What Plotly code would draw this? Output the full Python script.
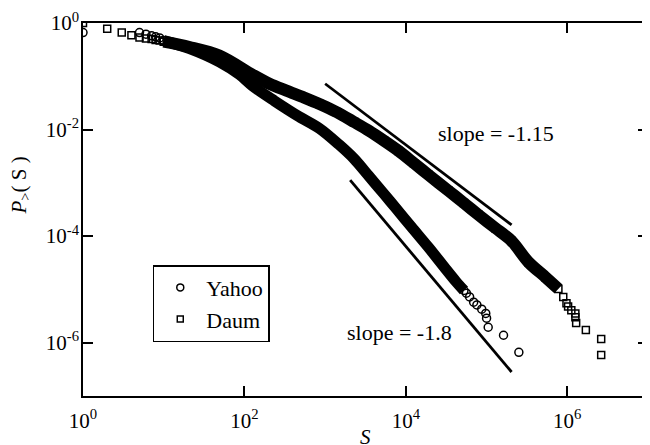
import plotly.graph_objects as go

# ---- data (log10 values) ----
daum_logS = [0.00, 0.30, 0.48, 0.60, 0.70, 0.78, 0.85, 0.90, 0.95,
             1.00, 1.32, 1.69, 2.10, 2.31, 2.52, 2.74, 2.93, 3.14, 3.36, 3.54,
             3.73, 3.91, 4.10, 4.28, 4.53, 4.72, 4.90, 5.11, 5.31, 5.52, 5.73, 5.89,
             5.95, 5.99, 6.01, 6.05, 6.10, 6.10, 6.11, 6.23, 6.42, 6.42]
daum_logP = [0.00, -0.11, -0.18, -0.23, -0.27, -0.29, -0.30, -0.32, -0.33,
             -0.35, -0.45, -0.61, -0.97, -1.14, -1.27, -1.40, -1.52, -1.67, -1.86, -2.02,
             -2.21, -2.40, -2.63, -2.85, -3.15, -3.38, -3.60, -3.85, -4.09, -4.49, -4.77, -4.99,
             -5.14, -5.26, -5.32, -5.39, -5.45, -5.52, -5.63, -5.76, -5.93, -6.23]

yahoo_logS = [0.00, 0.70, 0.78, 0.85, 0.90, 0.95,
              1.00, 1.32, 1.69, 1.94, 2.10, 2.37, 2.68, 2.93, 3.17, 3.36, 3.54, 3.73,
              3.88, 4.07, 4.28, 4.47, 4.62, 4.72,
              4.75, 4.79, 4.84, 4.88, 4.94, 4.99, 5.00, 5.02, 5.21, 5.40]
yahoo_logP = [-0.18, -0.18, -0.21, -0.24, -0.26, -0.28,
              -0.33, -0.48, -0.73, -0.97, -1.18, -1.46, -1.76, -1.98, -2.28, -2.55, -2.87, -3.21,
              -3.48, -3.83, -4.21, -4.57, -4.85, -5.02,
              -5.07, -5.14, -5.24, -5.29, -5.37, -5.45, -5.54, -5.71, -5.86, -6.18]

# dense (solid-looking) part of each curve, as log10 S limits
daum_band = (1.00, 5.89)
yahoo_band = (1.00, 4.72)

# guide lines: log10 endpoints
guide_115_logS = [3.00, 5.31]
guide_115_logP = [-1.14, -3.79]
guide_18_logS = [3.31, 5.31]
guide_18_logP = [-2.95, -6.55]

x_tickvals = [1, 1e2, 1e4, 1e6]
x_ticktext = ["10<sup>0</sup>", "10<sup>2</sup>", "10<sup>4</sup>", "10<sup>6</sup>"]
y_tickvals = [1, 1e-2, 1e-4, 1e-6]
y_ticktext = ["10<sup>0</sup>", "10<sup>-2</sup>", "10<sup>-4</sup>", "10<sup>-6</sup>"]

FONT = "Liberation Serif"


def p10(a):
    return [10 ** v for v in a]


def band(ls, lp, lim):
    xs = [x for x in ls if lim[0] <= x <= lim[1]]
    ys = [y for x, y in zip(ls, lp) if lim[0] <= x <= lim[1]]
    return p10(xs), p10(ys)


fig = go.Figure()

# solid bands of overlapping markers
for ls, lp, lim, w in [(daum_logS, daum_logP, daum_band, 12), (yahoo_logS, yahoo_logP, yahoo_band, 11)]:
    bx, by = band(ls, lp, lim)
    fig.add_trace(go.Scatter(x=bx, y=by, mode="lines", showlegend=False, hoverinfo="skip",
                             line=dict(color="black", width=w, shape="spline", smoothing=0.9)))

fig.add_trace(go.Scatter(x=p10(daum_logS), y=p10(daum_logP), mode="markers", showlegend=False,
                         marker=dict(symbol="square-open", size=7, color="black", line=dict(width=1.5))))
fig.add_trace(go.Scatter(x=p10(yahoo_logS), y=p10(yahoo_logP), mode="markers", showlegend=False,
                         marker=dict(symbol="circle-open", size=8, color="black", line=dict(width=1.5))))

# guide lines
for gs, gp in [(guide_115_logS, guide_115_logP), (guide_18_logS, guide_18_logP)]:
    fig.add_trace(go.Scatter(x=p10(gs), y=p10(gp), mode="lines", showlegend=False,
                             line=dict(color="black", width=2.8)))

# legend entries
fig.add_trace(go.Scatter(x=[None], y=[None], mode="markers", name="Yahoo",
                         marker=dict(symbol="circle-open", size=7, color="black", line=dict(width=1.5))))
fig.add_trace(go.Scatter(x=[None], y=[None], mode="markers", name="Daum",
                         marker=dict(symbol="square-open", size=6, color="black", line=dict(width=1.5))))

fig.add_annotation(x=5.12, y=-2.07, text="slope = -1.15", showarrow=False,
                   font=dict(family=FONT, size=22, color="black"))
fig.add_annotation(x=3.92, y=-5.80, text="slope = -1.8", showarrow=False,
                   font=dict(family=FONT, size=22, color="black"))

# axis titles
fig.add_annotation(xref="paper", yref="paper", x=0.5, y=-0.11, text="<i>S</i>", showarrow=False,
                   yanchor="middle", font=dict(family=FONT, size=21, color="black"))
fig.add_annotation(xref="paper", yref="paper", x=-0.111, y=0.565, text="<i>P</i><sub>></sub>( S )",
                   textangle=-90, showarrow=False, xanchor="center", yanchor="middle",
                   font=dict(family=FONT, size=21, color="black"))

axis_common = dict(type="log", ticks="inside", ticklen=10, tickwidth=1.5, tickcolor="black",
                   showline=True, linewidth=1.5, linecolor="black", mirror="ticks",
                   showgrid=False, zeroline=False,
                   tickfont=dict(family=FONT, size=21, color="black"))

# the page adds an 8 px body margin, so the figure is 8 px smaller than the window
fig.update_layout(
    width=642, height=437,
    margin=dict(l=75, r=0, t=15, b=49),
    plot_bgcolor="white", paper_bgcolor="white",
    xaxis=dict(range=[0, 7], tickvals=x_tickvals, ticktext=x_ticktext,
               ticklabelstandoff=5, **axis_common),
    yaxis=dict(range=[-7, 0], tickvals=y_tickvals, ticktext=y_ticktext,
               ticklabelstandoff=-2, **axis_common),
    legend=dict(x=0.1235, y=0.351, xanchor="left", yanchor="top", bgcolor="white",
                bordercolor="black", borderwidth=1.5, itemwidth=42, entrywidth=70,
                font=dict(family=FONT, size=22, color="black")),
)

fig.write_html("out.html")
